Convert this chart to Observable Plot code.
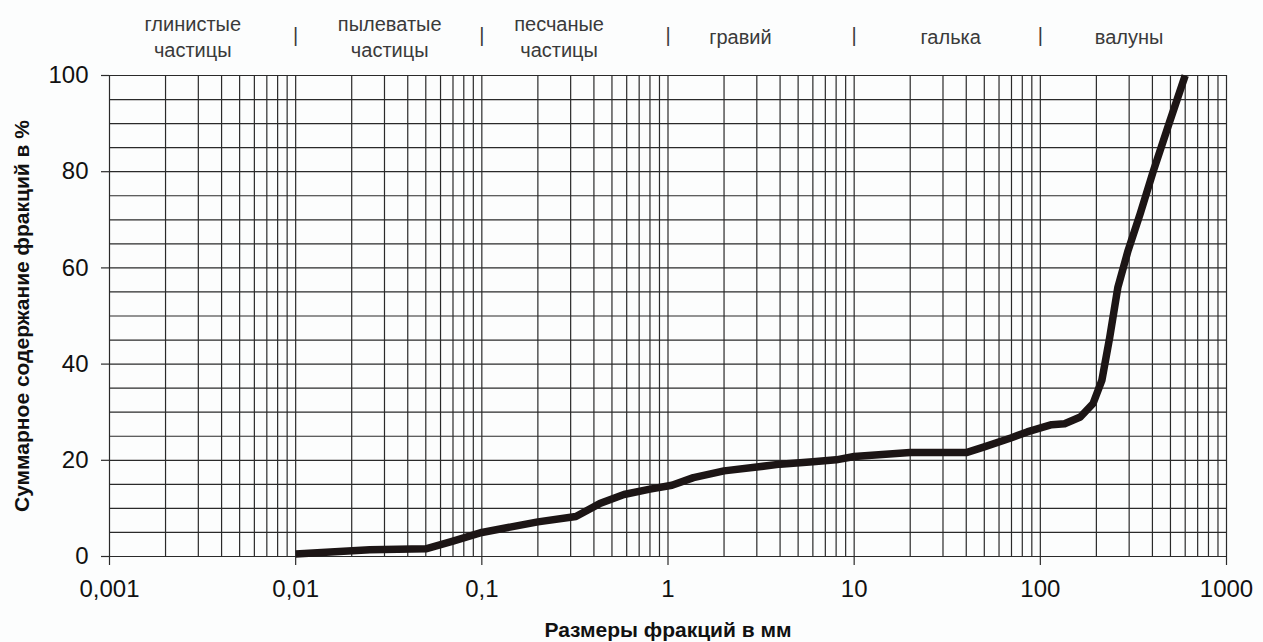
<!DOCTYPE html>
<html>
<head>
<meta charset="utf-8">
<script src="https://cdn.jsdelivr.net/npm/d3@7"></script>
<script src="https://cdn.jsdelivr.net/npm/@observablehq/plot@0.6"></script>
<style>
  html, body { margin: 0; padding: 0; background: #fcfdfd; }
  #chart svg { display: block; }
</style>
</head>
<body>
<div id="chart"></div>
<script>
// ---- data ----
const sizeMm = [0.01, 0.025, 0.05, 0.07, 0.1, 0.2, 0.32, 0.43, 0.58, 0.8, 1.05, 1.37, 2, 3, 4, 6, 8, 10, 20, 40, 50, 70, 85, 115, 135, 164, 192, 214, 236, 261, 296, 344, 405, 497, 600];
const cumPercent = [0.5, 1.4, 1.6, 3.2, 5.0, 7.2, 8.3, 11, 12.9, 14.0, 14.8, 16.4, 17.8, 18.6, 19.2, 19.7, 20.1, 20.8, 21.6, 21.6, 22.8, 24.7, 25.9, 27.4, 27.6, 29, 31.8, 36.6, 45.6, 56, 63.6, 71.3, 80.2, 90.6, 100];

const xTickValues = [0.001, 0.01, 0.1, 1, 10, 100, 1000];
const xTickLabels = ["0,001", "0,01", "0,1", "1", "10", "100", "1000"];
const yTickValues = [0, 20, 40, 60, 80, 100];

const classNames = ["глинистые\nчастицы", "пылеватые\nчастицы", "песчаные\nчастицы", "гравий", "галька", "валуны"];
const classLabelMm = [0.0028, 0.032, 0.26, 2.45, 33, 300];
const classBoundsMm = [0.01, 0.1, 1, 10, 100];

const xTitle = "Размеры фракций в мм";
const yTitle = "Суммарное содержание фракций в %";

// ---- derived ----
const curve = sizeMm.map((d, i) => ({size: d, pct: cumPercent[i]}));
const xGrid = [];
for (let k = -3; k <= 2; k++) for (let m = 1; m <= 9; m++) xGrid.push(m * Math.pow(10, k));
xGrid.push(1000);
const yGrid = d3.range(0, 101, 5);

const font = "'Liberation Sans', Arial, Helvetica, sans-serif";

const chart = Plot.plot({
  width: 1263,
  height: 642,
  marginLeft: 109,
  marginRight: 37,
  marginTop: 75,
  marginBottom: 86,
  style: {fontFamily: font, background: "#fcfdfd", color: "#111"},
  x: {type: "log", domain: [0.001, 1000]},
  y: {domain: [0, 100]},
  marks: [
    Plot.ruleX(xGrid, {stroke: "#2a2a2a", strokeWidth: 1.2}),
    Plot.ruleY(yGrid, {stroke: "#2a2a2a", strokeWidth: 1.2}),
    Plot.axisX({ticks: xTickValues, tickFormat: (d) => xTickLabels[xTickValues.indexOf(d)], tickSize: 9, tickPadding: 14, fontSize: 24, label: null, stroke: "#2a2a2a", strokeWidth: 1.2}),
    Plot.axisY({ticks: yTickValues, tickSize: 8, tickPadding: 13, fontSize: 24, label: null, stroke: "#2a2a2a", strokeWidth: 1.2}),
    Plot.line(curve, {x: "size", y: "pct", stroke: "#1c1515", strokeWidth: 7.5, strokeLinejoin: "round", strokeLinecap: "butt"}),
    Plot.text(classNames, {x: (d, i) => classLabelMm[i], frameAnchor: "top", dy: -40, lineAnchor: "middle", lineHeight: 1.3, fontSize: 20, fill: "#3a3a3a"}),
    Plot.text(classBoundsMm, {x: (d) => d, text: () => "|", frameAnchor: "top", dy: -40, lineAnchor: "middle", fontSize: 20, fill: "#3a3a3a"}),
    Plot.text([xTitle], {frameAnchor: "bottom", dy: 74, textAnchor: "middle", lineAnchor: "middle", fontSize: 21, fontWeight: "bold", fill: "#111"}),
    Plot.text([yTitle], {frameAnchor: "left", dx: -87, textAnchor: "middle", rotate: -90, lineAnchor: "middle", fontSize: 21, fontWeight: "bold", fill: "#111"})
  ]
});
document.getElementById("chart").appendChild(chart);
</script>
</body>
</html>
